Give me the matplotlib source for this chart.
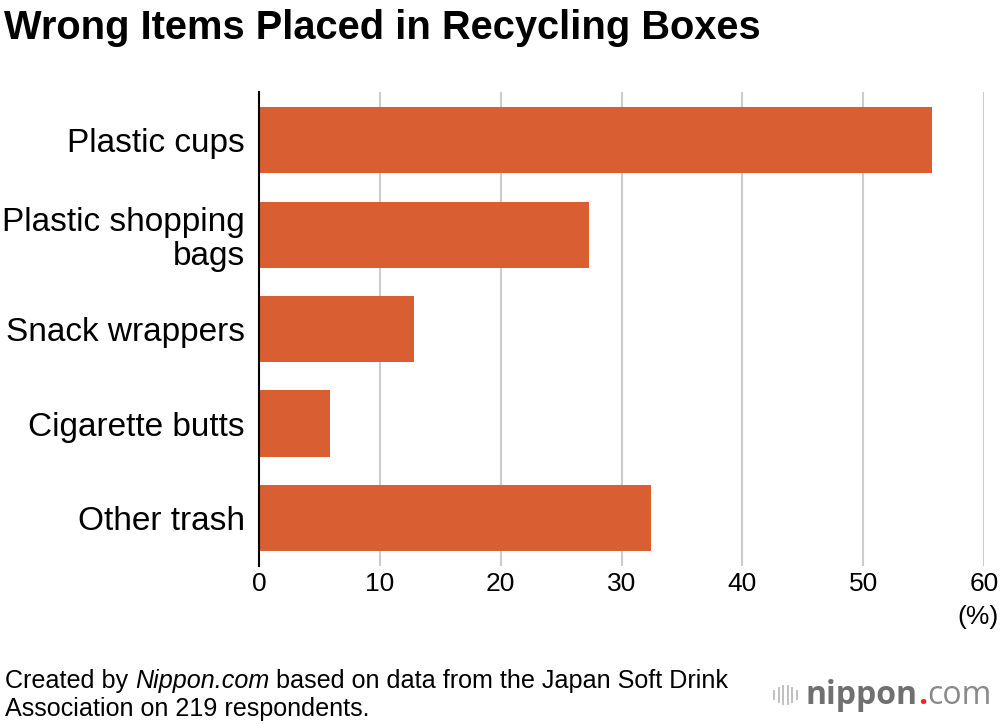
import matplotlib.pyplot as plt
from matplotlib.lines import Line2D

# data
categories = ["Plastic cups", "Plastic shopping\nbags", "Snack wrappers", "Cigarette butts", "Other trash"]
values = [55.7, 27.3, 12.8, 5.9, 32.4]
xticks = [0, 10, 20, 30, 40, 50, 60]

BAR_COLOR = "#D95F33"
FONT = "Liberation Sans"

fig = plt.figure(figsize=(10, 7.24), dpi=100)
ax = fig.add_axes([0.259, 0.218, 0.725, 0.655])

ypos = list(range(len(categories)))
ax.barh(ypos, values, height=0.70, color=BAR_COLOR, zorder=3)

ax.set_xlim(0, 60)
ax.set_ylim(4.51, -0.51)
ax.set_xticks(xticks)
ax.set_xticklabels([str(t) for t in xticks], fontsize=19, family=FONT)
ax.set_yticks(ypos)
ax.set_yticklabels(categories, fontsize=24, family=FONT, linespacing=1.12)
for lab in ax.get_yticklabels():
    lab.set_horizontalalignment("right")
    lab.set_multialignment("right")

ax.tick_params(axis="both", length=0)
ax.tick_params(axis="x", pad=4)
ax.tick_params(axis="y", pad=10)
ax.grid(axis="x", color="#cccccc", linewidth=1.5, zorder=0)
for s in ["top", "right", "bottom"]:
    ax.spines[s].set_visible(False)
ax.spines["left"].set_linewidth(1.5)
ax.spines["left"].set_color("black")
ax.spines["left"].set_zorder(4)

fig.text(0.9985, 1 - 617 / 724, "(%)", ha="right", va="center", fontsize=19, family=FONT)

fig.text(0.004, 1 - 28 / 724, "Wrong Items Placed in Recycling Boxes", ha="left", va="center",
         fontsize=28.7, fontweight="bold", family=FONT)

# footnote, built from pieces so the italic part stays in the same family
renderer = fig.canvas.get_renderer()
y1 = 1 - 681 / 724
x = 0.005
for txt, style in [("Created by ", "normal"), ("Nippon.com", "italic"),
                   (" based on data from the Japan Soft Drink", "normal")]:
    t = fig.text(x, y1, txt, ha="left", va="center", fontsize=18.1, style=style, family=FONT)
    bb = t.get_window_extent(renderer)
    x += bb.width / 1000
fig.text(0.005, 1 - 709 / 724, "Association on 219 respondents.", ha="left", va="center",
         fontsize=18.1, family=FONT)

# logo
yl = 1 - 695 / 724
for i, h in enumerate([0.01, 0.018, 0.026, 0.026, 0.018, 0.01]):
    xx = 0.774 + i * 0.0045
    fig.add_artist(Line2D([xx, xx], [yl - h / 2, yl + h / 2], color="#bbbbbb", linewidth=1.3))
x = 0.806
for txt, weight, col in [("nippon", "bold", "#707070"), (".", "bold", "#e8282b"),
                         ("com", "normal", "#8a8a8a")]:
    t = fig.text(x, yl, txt, ha="left", va="center", fontsize=23, fontweight=weight,
                 color=col, family="Open Sans")
    bb = t.get_window_extent(renderer)
    x += bb.width / 1000

fig.savefig("out.png", dpi=100)
